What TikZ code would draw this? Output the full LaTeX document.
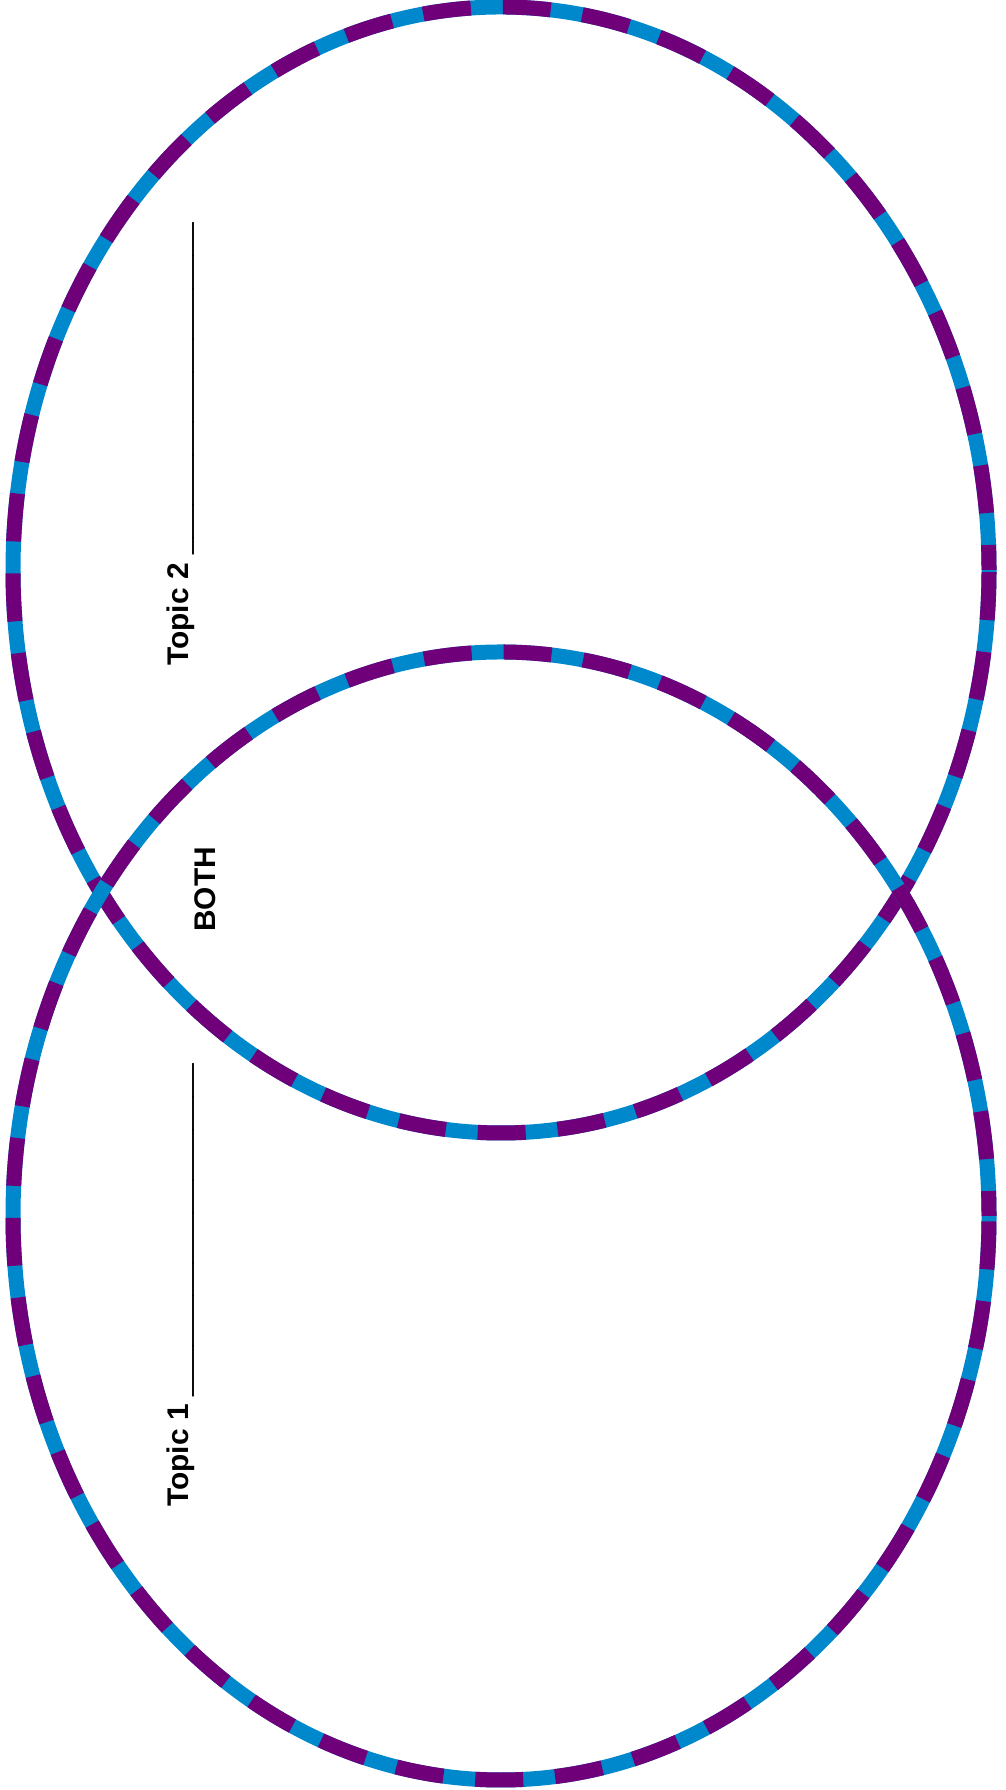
\documentclass[tikz,border=0pt]{standalone}
\usepackage{fontspec}
\setmainfont{Liberation Sans}
\usepackage{xcolor}
\definecolor{vennpurple}{RGB}{112,0,122}
\definecolor{vennblue}{RGB}{0,136,204}

\begin{document}
\begin{tikzpicture}[
    x=0.02cm, y=0.02cm,
    font=\fontsize{17}{20}\selectfont\bfseries,
    ringbase/.style={draw=vennblue, line width=0.3cm},
    ringdash/.style={draw=vennpurple, line width=0.3cm,
        dash pattern=on 0.96cm off 0.64cm, dash phase=0.46cm},
    topictext/.style={rotate=90, anchor=base west, inner sep=0pt}
]

    \useasboundingbox (0, 0) rectangle (1006, 1790);

    % Centres of the two sets
    \coordinate (top)  at (501, 1220);
    \coordinate (bot)  at (501, 574);

    % Upper set: blue ring, purple dashes on top
    \draw[ringbase] (top) ellipse [x radius=488, y radius=563];
    \draw[ringdash] (top) ellipse [x radius=488, y radius=563];

    % Lower set
    \draw[ringbase] (bot) ellipse [x radius=488, y radius=564];
    \draw[ringdash] (bot) ellipse [x radius=488, y radius=564];

    % Labels
    \node[topictext] (topic2) at (188, 1124)
        {Topic 2 {\mdseries\_\_\_\_\_\_\_\_\_\_\_\_\_\_\_\_\_\_\_\_}};
    \node[topictext] (both)   at (215, 858) {BOTH};
    \node[topictext] (topic1) at (188, 283)
        {Topic 1 {\mdseries\_\_\_\_\_\_\_\_\_\_\_\_\_\_\_\_\_\_\_\_}};

\end{tikzpicture}
\end{document}
